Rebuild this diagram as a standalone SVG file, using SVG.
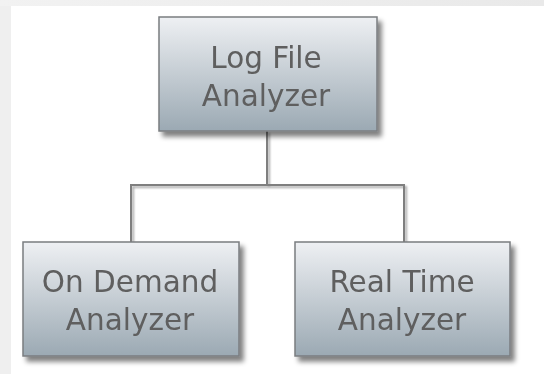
<svg xmlns="http://www.w3.org/2000/svg" width="544" height="374" viewBox="0 0 544 374">
  <defs>
    <linearGradient id="boxFill" x1="0" y1="0" x2="0" y2="1">
      <stop offset="0" stop-color="#eef0f3"/>
      <stop offset="1" stop-color="#9ba9b3"/>
    </linearGradient>
    <linearGradient id="edgeTop" x1="0" y1="0" x2="1" y2="0">
      <stop offset="0" stop-color="#f2f2f2"/>
      <stop offset="1" stop-color="#e9e9e9"/>
    </linearGradient>
    <filter id="shadow" x="-10%" y="-10%" width="130%" height="140%">
      <feGaussianBlur in="SourceAlpha" stdDeviation="2.5"/>
      <feOffset dx="4" dy="5" result="b"/>
      <feComponentTransfer><feFuncA type="linear" slope="0.5"/></feComponentTransfer>
      <feMerge><feMergeNode/><feMergeNode in="SourceGraphic"/></feMerge>
    </filter>
    <filter id="lineShadow" x="-50%" y="-50%" width="200%" height="200%">
      <feGaussianBlur in="SourceAlpha" stdDeviation="1"/>
      <feOffset dx="2" dy="2"/>
      <feComponentTransfer><feFuncA type="linear" slope="0.35"/></feComponentTransfer>
      <feMerge><feMergeNode/><feMergeNode in="SourceGraphic"/></feMerge>
    </filter>
  </defs>
  <style>
    .box { fill: url(#boxFill); stroke: #7a7d80; stroke-width: 1.5; }
    .label { font-family: "DejaVu Sans", Verdana, sans-serif; font-size: 29.5px; fill: #5e5e5e; text-anchor: middle; }
    .wire { fill: none; stroke: #7f7f7f; stroke-width: 2; }
  </style>

  <!-- page backdrop -->
  <rect x="0" y="0" width="544" height="374" fill="#efefef"/>
  <rect x="0" y="0" width="544" height="6" fill="url(#edgeTop)"/>
  <rect x="11" y="6" width="533" height="368" fill="#ffffff"/>

  <!-- connectors -->
  <g id="connectors" filter="url(#lineShadow)">
    <path class="wire" d="M267 131 V185"/>
    <path class="wire" d="M131 242 V185 H404 V242"/>
  </g>

  <g id="log-file-analyzer" filter="url(#shadow)">
    <rect class="box" x="159" y="17" width="218" height="114"/>
    <text class="label" x="266" y="68">Log File</text>
    <text class="label" x="266" y="106">Analyzer</text>
  </g>

  <g id="on-demand-analyzer" filter="url(#shadow)">
    <rect class="box" x="23" y="242" width="216" height="114"/>
    <text class="label" x="130" y="292">On Demand</text>
    <text class="label" x="130" y="330">Analyzer</text>
  </g>

  <g id="real-time-analyzer" filter="url(#shadow)">
    <rect class="box" x="295" y="242" width="215" height="114"/>
    <text class="label" x="402" y="292">Real Time</text>
    <text class="label" x="402" y="330">Analyzer</text>
  </g>
</svg>
